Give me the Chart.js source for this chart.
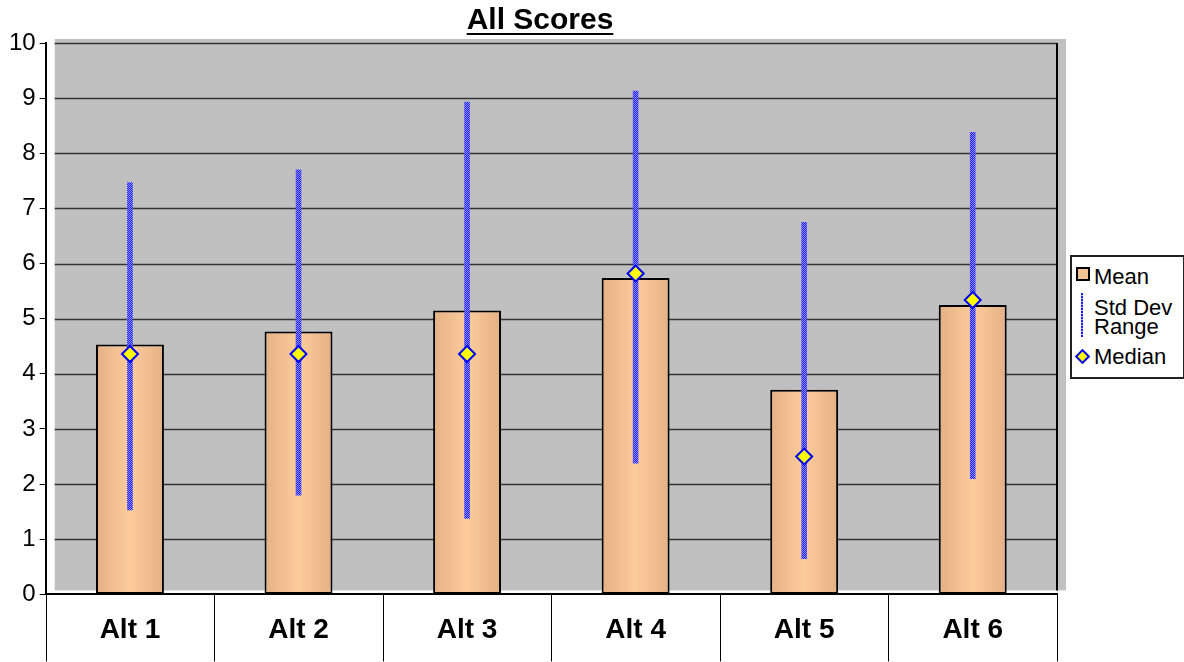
<!DOCTYPE html>
<html>
<head>
<meta charset="utf-8">
<title>All Scores</title>
<script src="https://cdn.jsdelivr.net/npm/chart.js@4.4.1/dist/chart.umd.min.js"></script>
<style>
    body { margin: 0; background: #fff; }
    #wrap { position: relative; width: 1184px; height: 662px; }
    #title {
        position: absolute; left: 340px; width: 400px; top: 2px; text-align: center;
        font-family: "Liberation Sans", Arial, sans-serif; font-size: 30px; font-weight: bold;
        text-decoration: underline; text-decoration-thickness: 2px; text-underline-offset: 4px;
    }
    #legend {
        position: absolute; left: 1070px; top: 255px; width: 111px; height: 120px;
        border: 2px solid #222; background: #fff; overflow: hidden;
        font-family: "Liberation Sans", Arial, sans-serif; font-size: 22px; color: #000;
    }
    .item { position: absolute; left: 22px; line-height: 22px; white-space: nowrap; }
    .mk { position: absolute; }
</style>
</head>
<body>
<div id="wrap">
    <canvas id="scoresChart" width="1184" height="662"></canvas>
    <div id="title">All Scores</div>
    <div id="legend">
        <div class="mk" style="left:4px;top:10px;width:10px;height:10px;border:2px solid #000;background:#f4c393;"></div>
        <div class="item" style="top:9px;">Mean</div>
        <div class="mk" style="left:9px;top:36px;width:2px;height:44px;background:repeating-linear-gradient(#2020ff 0 2px,#b0b0ff 2px 3px);"></div>
        <div class="item" style="top:40px;">Std Dev</div>
        <div class="item" style="top:59px;">Range</div>
        <div class="mk" style="left:5px;top:94px;width:7px;height:7px;border:2px solid #0000ff;background:#ffff00;transform:rotate(45deg);"></div>
        <div class="item" style="top:89px;">Median</div>
    </div>
</div>
<script>
const categories = ['Alt 1', 'Alt 2', 'Alt 3', 'Alt 4', 'Alt 5', 'Alt 6'];
const meanScores = [4.53, 4.77, 5.15, 5.74, 3.71, 5.25];
const medianScores = [4.36, 4.36, 4.36, 5.82, 2.50, 5.34];
const sdLow = [1.53, 1.80, 1.38, 2.38, 0.65, 2.10];
const sdHigh = [7.47, 7.70, 8.93, 9.13, 6.75, 8.38];

const FONT = "'Liberation Sans', Arial, sans-serif";
const canvas = document.getElementById('scoresChart');
const ctx2d = canvas.getContext('2d');

// blue/white checker used for the std dev lines
const pc = document.createElement('canvas');
pc.width = 2; pc.height = 2;
const p = pc.getContext('2d');
p.fillStyle = '#2020ff'; p.fillRect(0, 0, 2, 2);
p.fillStyle = '#8c8cff'; p.fillRect(0, 0, 1, 1); p.fillRect(1, 1, 1, 1);
const checker = ctx2d.createPattern(pc, 'repeat');

function barFill(c) {
    const chart = c.chart;
    const xs = chart.scales.x;
    if (!chart.chartArea || !xs) return '#f0c090';
    const cx = xs.getPixelForValue(c.dataIndex);
    const half = (xs.getPixelForValue(1) - xs.getPixelForValue(0)) * 0.2;
    const g = chart.ctx.createLinearGradient(cx - half, 0, cx + half, 0);
    g.addColorStop(0, '#e3b184');
    g.addColorStop(0.5, '#fdcc9b');
    g.addColorStop(1, '#e3b184');
    return g;
}

// grey back wall with 3d offset, grid lines drawn on it, category dividers below the axis
const wallPlugin = {
    id: 'wall',
    beforeDatasetsDraw(chart) {
        const { ctx, chartArea: a, scales } = chart;
        ctx.save();
        ctx.fillStyle = '#c0c0c0';
        ctx.fillRect(a.left + 9, a.top - 4, a.right - a.left, a.bottom - a.top);
        ctx.strokeStyle = '#333';
        ctx.lineWidth = 1.5;
        scales.y.ticks.forEach(t => {
            const y = Math.round(scales.y.getPixelForValue(t.value)) + 0.5;
            if (t.value === 0) return;
            ctx.beginPath();
            ctx.moveTo(a.left + 9, y);
            ctx.lineTo(a.right, y);
            ctx.stroke();
        });
        ctx.strokeStyle = '#000';
        ctx.lineWidth = 2;
        ctx.beginPath();
        ctx.moveTo(a.right, a.top);
        ctx.lineTo(a.right, a.bottom - 4);
        ctx.stroke();

        // dividers between categories, under the axis
        const xs = scales.x;
        const n = categories.length;
        ctx.lineWidth = 1;
        for (let i = 0; i <= n; i++) {
            let x;
            if (i === 0) x = a.left;
            else if (i === n) x = a.right;
            else x = (xs.getPixelForValue(i - 1) + xs.getPixelForValue(i)) / 2;
            x = Math.round(x) + 0.5;
            ctx.beginPath();
            ctx.moveTo(x, a.bottom);
            ctx.lineTo(x, a.bottom + 67);
            ctx.stroke();
        }
        ctx.restore();
    }
};

new Chart(canvas, {
    type: 'bar',
    data: {
        labels: categories,
        datasets: [
            {
                type: 'line',
                label: 'Median',
                data: medianScores,
                showLine: false,
                pointStyle: 'rectRot',
                pointRadius: 8,
                pointBackgroundColor: '#ffff00',
                pointBorderColor: '#0000ff',
                pointBorderWidth: 2,
                order: 0
            },
            {
                label: 'Std Dev Range',
                data: sdLow.map((v, i) => [v, sdHigh[i]]),
                backgroundColor: checker,
                borderWidth: 0,
                barThickness: 5,
                grouped: false,
                order: 1
            },
            {
                label: 'Mean',
                data: meanScores,
                backgroundColor: barFill,
                borderColor: '#000',
                borderWidth: 2,
                borderSkipped: false,
                barPercentage: 0.403,
                categoryPercentage: 1,
                grouped: false,
                order: 2
            }
        ]
    },
    options: {
        responsive: false,
        animation: false,
        layout: { padding: { left: 5, right: 127, top: 43, bottom: -4 } },
        plugins: {
            legend: { display: false },
            tooltip: { enabled: false },
            title: { display: false }
        },
        scales: {
            x: {
                offset: true,
                grid: { display: false, drawTicks: false },
                border: { display: true, color: '#000', width: 2 },
                ticks: {
                    color: '#000',
                    padding: 19,
                    font: { family: FONT, size: 28, weight: 'bold' }
                }
            },
            y: {
                min: 0,
                max: 10,
                ticks: {
                    stepSize: 1,
                    color: '#000',
                    padding: 4,
                    font: { family: FONT, size: 24 }
                },
                grid: {
                    drawOnChartArea: false,
                    drawTicks: true,
                    tickLength: 6,
                    color: '#000'
                },
                border: { display: true, color: '#000', width: 2 }
            }
        }
    },
    plugins: [wallPlugin]
});
</script>
</body>
</html>
